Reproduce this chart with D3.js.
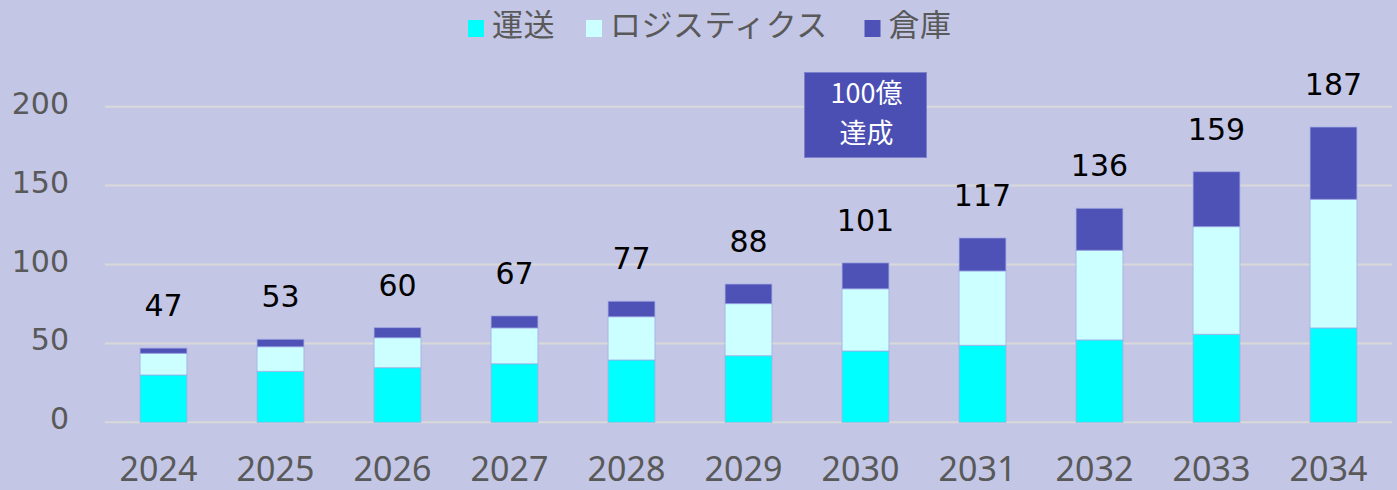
<!DOCTYPE html>
<html>
<head>
<meta charset="utf-8">
<script src="https://cdn.jsdelivr.net/npm/d3@7"></script>
<style>
  body { margin: 0; background: #c3c6e5; }
  svg { display: block; }
</style>
</head>
<body>
<div id="chart"></div>
<script>
const years = ['2024','2025','2026','2027','2028','2029','2030','2031','2032','2033','2034'];
const transport = [30, 32.3, 34.6, 37.1, 39.5, 42.2, 45.2, 48.8, 52.2, 55.8, 59.8];
const logistics = [13.7, 15.6, 19, 22.7, 27.4, 33, 39.4, 47.1, 56.8, 68.2, 81.5];
const warehouse = [3.3, 4.7, 6.4, 7.6, 9.8, 12.4, 16.4, 20.9, 26.6, 34.8, 45.8];
const totals = [47, 53, 60, 67, 77, 88, 101, 117, 136, 159, 187];
const seriesNames = ['運送', 'ロジスティクス', '倉庫'];
const yTicks = [0, 50, 100, 150, 200];
const calloutLines = ['100億', '達成'];

const width = 1397, height = 490;
const colors = ['#00ffff', '#ccffff', '#4e51b5'];

const svg = d3.select('#chart')
  .append('svg')
  .attr('width', width)
  .attr('height', height)
  .style('background', '#c3c6e5');

const x = d3.scaleBand()
  .domain(years)
  .range([105, 1392])
  .paddingInner(0.6)
  .paddingOuter(0.3);

const y = d3.scaleLinear()
  .domain([0, 200])
  .range([422.3, 106.7]);

// gridlines
svg.append('g')
  .selectAll('line')
  .data(yTicks)
  .enter()
  .append('line')
  .attr('x1', 105)
  .attr('x2', 1392)
  .attr('y1', d => y(d))
  .attr('y2', d => y(d))
  .attr('stroke', '#d9d9d9')
  .attr('stroke-width', 2);

// y labels
svg.append('g')
  .selectAll('text')
  .data(yTicks)
  .enter()
  .append('text')
  .attr('x', 69)
  .attr('y', d => y(d) + 7)
  .attr('text-anchor', 'end')
  .attr('font-family', 'DejaVu Sans')
  .attr('font-size', 30)
  .attr('fill', '#595959')
  .text(d => d);

// stacked bars
const rows = years.map((yr, i) => ({
  year: yr, a: transport[i], b: logistics[i], c: warehouse[i]
}));
const stack = d3.stack().keys(['a', 'b', 'c'])(rows);

svg.append('g')
  .selectAll('g')
  .data(stack)
  .enter()
  .append('g')
  .attr('fill', (d, i) => colors[i])
  .selectAll('rect')
  .data(d => d)
  .enter()
  .append('rect')
  .attr('x', d => x(d.data.year))
  .attr('width', x.bandwidth())
  .attr('y', d => y(d[1]))
  .attr('height', d => y(d[0]) - y(d[1]))
  .attr('stroke', 'rgba(160,170,230,0.7)')
  .attr('stroke-width', 1);

// total labels
svg.append('g')
  .selectAll('text')
  .data(rows)
  .enter()
  .append('text')
  .attr('x', d => x(d.year) + x.bandwidth() / 2)
  .attr('y', d => y(d.a + d.b + d.c) - 32)
  .attr('text-anchor', 'middle')
  .attr('font-family', 'DejaVu Sans')
  .attr('font-size', 30)
  .attr('fill', '#000')
  .text((d, i) => totals[i]);

// x labels
svg.append('g')
  .selectAll('text')
  .data(years)
  .enter()
  .append('text')
  .attr('x', d => x(d) + x.bandwidth() / 2 - 5)
  .attr('y', 481)
  .attr('text-anchor', 'middle')
  .attr('font-family', 'Noto Sans')
  .attr('font-size', 34)
  .attr('fill', '#595959')
  .text(d => d);

// legend
const legendX = [468, 586, 864.5];
const legend = svg.append('g')
  .selectAll('g')
  .data(seriesNames)
  .enter()
  .append('g')
  .attr('transform', (d, i) => `translate(${legendX[i]},0)`);
legend.append('rect')
  .attr('x', 0)
  .attr('y', 20)
  .attr('width', 16)
  .attr('height', 17)
  .attr('fill', (d, i) => colors[i]);
legend.append('text')
  .attr('x', 24)
  .attr('y', 36)
  .attr('font-family', 'Noto Sans CJK JP')
  .attr('font-size', 31)
  .attr('letter-spacing', 0.5)
  .attr('fill', '#595959')
  .text(d => d);

// callout box
const cx = x('2030') + x.bandwidth() / 2;
svg.append('rect')
  .attr('x', cx - 61)
  .attr('y', 72.5)
  .attr('width', 122)
  .attr('height', 85)
  .attr('fill', '#4b4fb3')
  .attr('stroke', '#7d80cb')
  .attr('stroke-width', 1);
svg.append('g')
  .selectAll('text')
  .data(calloutLines)
  .enter()
  .append('text')
  .attr('x', cx + 1)
  .attr('y', (d, i) => 103 + i * 40)
  .attr('text-anchor', 'middle')
  .attr('font-family', 'Noto Sans CJK JP')
  .attr('font-size', 27)
  .attr('fill', '#fff')
  .text(d => d);
</script>
</body>
</html>
